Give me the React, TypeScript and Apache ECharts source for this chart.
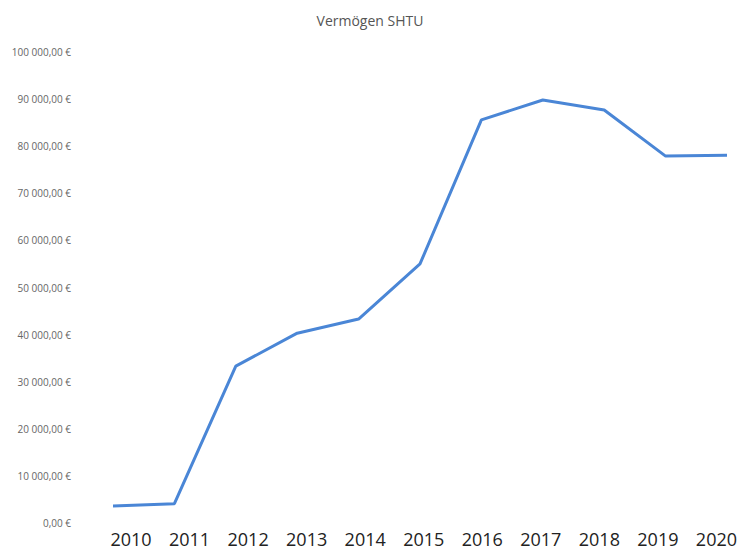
import React, { useEffect, useRef } from "react";
import * as echarts from "echarts";

const years = ["2010", "2011", "2012", "2013", "2014", "2015", "2016", "2017", "2018", "2019", "2020"];
const vermoegen = [3600, 4100, 33300, 40300, 43300, 55000, 85600, 89800, 87700, 77900, 78100];
const yTicks = { min: 0, max: 100000, interval: 10000 };

function fmt(v: number): string {
  const s = Math.round(v).toString().replace(/\B(?=(\d{3})+(?!\d))/g, " ");
  return s + ",00 €";
}

export default function App() {
  const ref = useRef<HTMLDivElement>(null);
  useEffect(() => {
    const chart = echarts.init(ref.current!, null, { renderer: "svg" });
    chart.setOption({
      animation: false,
      backgroundColor: "#ffffff",
      title: {
        text: "Vermögen SHTU",
        left: "center",
        top: 8,
        textStyle: { fontFamily: "Open Sans", fontSize: 14, fontWeight: "normal", color: "#555555" },
      },
      grid: [
        { left: 113, right: 13, top: 52, bottom: 28 },
        { left: 131, right: 20, top: 52, bottom: 28 },
      ],
      xAxis: [
        {
          type: "category",
          data: years,
          gridIndex: 0,
          boundaryGap: false,
          axisLine: { show: false },
          axisTick: { show: false },
          axisLabel: { show: false },
        },
        {
          type: "category",
          data: years,
          gridIndex: 1,
          boundaryGap: false,
          axisLine: { show: false },
          axisTick: { show: false },
          axisLabel: { fontFamily: "Open Sans", fontSize: 18, color: "#222222", margin: 7 },
        },
      ],
      yAxis: [
        {
          type: "value",
          gridIndex: 0,
          min: yTicks.min,
          max: yTicks.max,
          interval: yTicks.interval,
          splitLine: { show: false },
          axisLine: { show: false },
          axisTick: { show: false },
          axisLabel: { fontFamily: "Open Sans", fontSize: 10, color: "#666666", margin: 42, formatter: fmt },
        },
        {
          type: "value",
          gridIndex: 1,
          min: yTicks.min,
          max: yTicks.max,
          interval: yTicks.interval,
          show: false,
        },
      ],
      series: [
        {
          type: "line",
          xAxisIndex: 0,
          yAxisIndex: 0,
          data: vermoegen,
          symbol: "none",
          lineStyle: { color: "#4a86d6", width: 3 },
        },
      ],
    });
    return () => chart.dispose();
  }, []);
  return <div ref={ref} style={{ position: "fixed", left: 0, top: 0, width: 740, height: 551 }} />;
}
